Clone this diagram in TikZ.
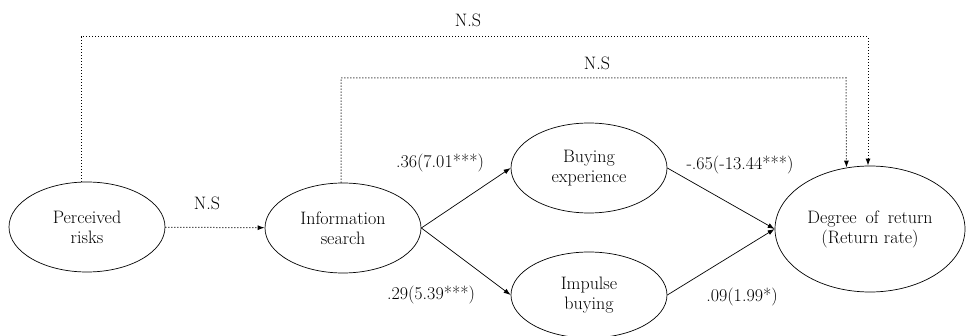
\documentclass[tikz,border=0pt]{standalone}
\usepackage{tikz}
\usetikzlibrary{positioning, arrows.meta, shapes.geometric}

\begin{document}
\begin{tikzpicture}[x=1pt, y=1pt, >={Latex[length=7pt,width=5pt]},
		construct/.style={ellipse, draw, line width=0.7pt, inner sep=0pt, align=center,
			minimum width=156pt, minimum height=90pt, font=\fontsize{18}{20}\selectfont},
		coef/.style={inner sep=0pt, font=\fontsize{18}{20}\selectfont},
		nsline/.style={->, dash pattern=on 1pt off 2pt, line width=1pt},
		effect/.style={->, line width=0.7pt}]
		\useasboundingbox (0,0) rectangle (966,335);

		\node[construct] (risk) at (87,108) {Perceived\\risks};
		\node[construct] (search) at (343,107) {Information\\search};
		\node[construct] (exper) at (589,167) {Buying\\experience};
		\node[construct, minimum height=86pt] (impulse) at (589,40) {Impulse\\buying};
		\node[construct, minimum width=190pt, minimum height=126pt] (ret) at (870,106)
			{Degree\hspace{9pt}of\hspace{9pt}return\\(Return rate)};

		% corners of the dotted paths
		\coordinate (c1) at (868,298);
		\coordinate (c2) at (846,257);

		\draw[nsline] (risk) -- (search);
		\draw[nsline] ([xshift=-6pt]risk.north) |- (c1) -- (ret.north -| c1);
		\draw[nsline] ([xshift=-2pt]search.north) |- (c2) -- (ret.111.5);

		\draw[effect] (search.east) -- (exper.west);
		\draw[effect] (search.east) -- (impulse.west);
		\draw[effect] (exper.east) -- (ret.west);
		\draw[effect] (impulse.east) -- (ret.west);

		\node[coef] (ns1) at (468,315) {N.S};
		\node[coef] (ns2) at (597,272) {N.S};
		\node[coef] (ns3) at (207,132) {N.S};
		\node[coef] (b1) at (440,172) {.36(7.01***)};
		\node[coef] (b2) at (431,40) {.29(5.39***)};
		\node[coef] (b3) at (740,170) {-.65(-13.44***)};
		\node[coef] (b4) at (742,38) {.09(1.99*)};
	\end{tikzpicture}
\end{document}
